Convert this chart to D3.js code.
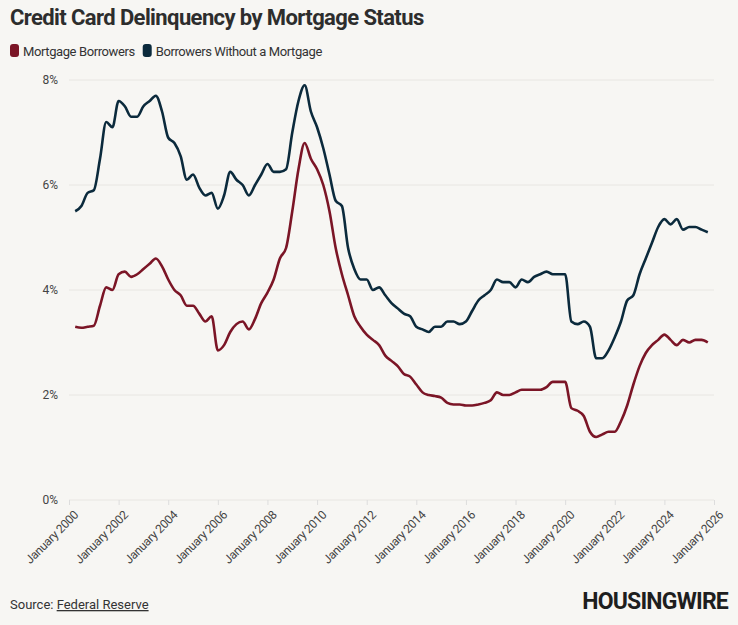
<!DOCTYPE html>
<html><head><meta charset="utf-8">
<script src="https://cdn.jsdelivr.net/npm/d3@7"></script>
<style>
body{margin:0;background:#f7f6f3;font-family:"Roboto",sans-serif;}
</style></head><body>
<script>
// quarterly readings starting 2000.25
var startYear = 2000.25
var mortgage = [3.3,3.28,3.3, 3.32,3.7,4.05,4.0, 4.3,4.35,4.25,4.3, 4.4,4.5,4.6,4.45,
  4.2,4.0,3.9,3.7, 3.7,3.55,3.4,3.5, 2.85,2.95,3.2,3.35, 3.4,3.25,3.45,3.75,
  3.95,4.2,4.6,4.8, 5.5,6.3,6.8,6.5, 6.3,6.0,5.5,4.8, 4.3,3.9,3.5,3.3,
  3.15,3.05,2.95,2.75, 2.65,2.55,2.4,2.35, 2.2,2.05,2.0,1.98, 1.95,1.85,1.82,1.82,
  1.8,1.8,1.82,1.85, 1.9,2.05,2.0,2.0, 2.05,2.1,2.1,2.1, 2.1,2.15,2.25,2.25,
  2.25,1.75,1.7,1.6, 1.3,1.2,1.25,1.3, 1.3,1.5,1.8,2.2, 2.55,2.8,2.95,3.05,
  3.15,3.05,2.95,3.05, 3.0,3.05,3.05,3.0]
var noMortgage = [5.5,5.6,5.85, 5.9,6.5,7.2,7.1, 7.6,7.5,7.3,7.3, 7.5,7.6,7.7,7.4,
  6.9,6.8,6.55,6.1, 6.2,5.95,5.8,5.85, 5.55,5.8,6.25,6.1, 6.0,5.8,6.0,6.2,
  6.4,6.25,6.25,6.3, 7.0,7.6,7.9,7.4, 7.1,6.7,6.2,5.7, 5.6,4.8,4.4,4.2,
  4.2,4.0,4.05,3.9, 3.75,3.65,3.55,3.5, 3.3,3.25,3.2,3.3, 3.3,3.4,3.4,3.35,
  3.4,3.6,3.8,3.9, 4.0,4.2,4.15,4.15, 4.05,4.2,4.15,4.25, 4.3,4.35,4.3,4.3,
  4.3,3.4,3.35,3.4, 3.3,2.7,2.7,2.85, 3.1,3.4,3.8,3.9, 4.3,4.6,4.9,5.2,
  5.35,5.25,5.35,5.15, 5.2,5.2,5.15,5.1]
var xTicks = d3.range(2000, 2027, 2)
var yTicks = [0, 2, 4, 6, 8]
var seriesNames = ["Mortgage Borrowers", "Borrowers Without a Mortgage"]
var colors = ["#7b1526", "#0b2a3c"]

var W = 738, H = 625
var svg = d3.select("body").append("svg").attr("width", W).attr("height", H)
var x = d3.scaleLinear().domain([2000, 2026]).range([69, 714])
var y = d3.scaleLinear().domain([0, 8]).range([500, 80])

svg.append("text").attr("x", 10).attr("y", 25).text("Credit Card Delinquency by Mortgage Status")
  .style("font-size", "22px").style("font-weight", "bold").attr("fill", "#2d2d2d").attr("letter-spacing", "-0.6")

var lx = 10
seriesNames.forEach(function (n, i) {
  svg.append("rect").attr("x", lx).attr("y", 44).attr("width", 9).attr("height", 13).attr("rx", 3).attr("fill", colors[i])
  var t = svg.append("text").attr("x", lx + 13).attr("y", 56).text(n).style("font-size", "13px")
    .attr("letter-spacing", "-0.4").attr("fill", "#333")
  lx += 13 + t.node().getComputedTextLength() + 8
})

svg.append("g").selectAll("line").data(yTicks).enter().append("line")
  .attr("x1", 69).attr("x2", 714).attr("y1", y).attr("y2", y).attr("stroke", "#e8e6e2")
svg.append("g").selectAll("text").data(yTicks).enter().append("text")
  .attr("x", 58).attr("y", function (d) { return y(d) + 4 }).attr("text-anchor", "end")
  .text(function (d) { return d + "%" }).style("font-size", "12px").attr("fill", "#444")

var xa = svg.append("g").attr("transform", "translate(0,500)")
  .call(d3.axisBottom(x).tickValues(xTicks).tickSize(5).tickFormat(function (d) { return "January " + d }))
xa.select(".domain").remove()
xa.selectAll("line").attr("stroke", "#ddd")
xa.selectAll("text").attr("transform", "translate(-2,4) rotate(-45)").style("text-anchor", "end")
  .style("font-size", "12px").style("font-family", "Roboto, sans-serif").attr("letter-spacing", "-0.3").attr("fill", "#444")

var line = d3.line().x(function (d, i) { return x(startYear + i * 0.25) }).y(function (d) { return y(d) })
  .curve(d3.curveMonotoneX)
;[noMortgage, mortgage].forEach(function (s, i) {
  svg.append("path").attr("d", line(s)).attr("fill", "none")
    .attr("stroke", i == 0 ? colors[1] : colors[0]).attr("stroke-width", 2.6)
})

svg.append("text").attr("x", 10).attr("y", 609).style("font-size", "13px").attr("fill", "#333")
  .text("Source: ").append("tspan").text("Federal Reserve").style("text-decoration", "underline")
svg.append("text").attr("x", 728).attr("y", 609).attr("text-anchor", "end").text("HOUSINGWIRE")
  .style("font-size", "23px").style("font-weight", "bold").attr("fill", "#1e1e1e").attr("letter-spacing", "-0.8")
</script>
</body></html>
